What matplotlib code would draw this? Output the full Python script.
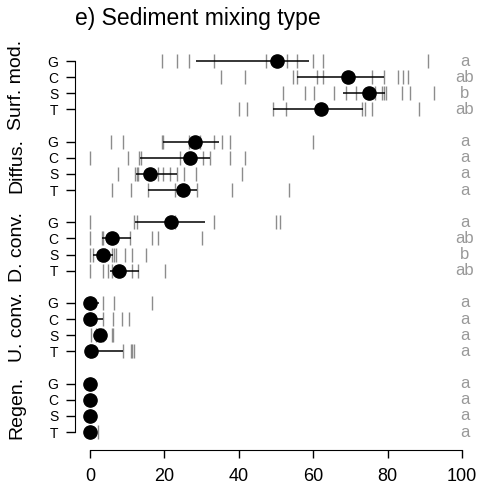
import numpy as np
import matplotlib
matplotlib.use('Agg')
import matplotlib.pyplot as plt
from matplotlib.transforms import blended_transform_factory

plt.rcParams['font.family'] = ['Liberation Sans', 'DejaVu Sans']

# Data
groups = ['Surf. mod.', 'Diffus.', 'D. conv.', 'U. conv.', 'Regen.']
rows = ['G', 'C', 'S', 'T']

# raw observations (grey ticks), one list per row, groups in order
surf_pts = [[19.4, 23.5, 26.6, 33.3, 47.2, 53.0, 55.7, 60.0, 62.7, 90.9],
            [35.2, 41.7, 54.7, 55.7, 60.9, 62.5, 75.7, 78.9, 82.9, 84.2, 85.6],
            [51.8, 57.8, 60.2, 65.7, 68.8, 71.5, 76.6, 78.4, 79.0, 79.7, 83.8, 86.0, 92.5],
            [40.1, 42.3, 49.3, 52.7, 73.0, 73.9, 75.7, 88.5]]
diff_pts = [[5.6, 9.0, 19.3, 19.7, 26.7, 29.6, 33.4, 35.6, 37.6, 59.9],
            [0.0, 10.3, 13.3, 13.7, 24.2, 30.5, 32.3, 37.6, 41.7],
            [7.6, 12.1, 12.5, 13.0, 18.4, 19.7, 21.5, 23.5, 25.4, 28.4, 40.8],
            [5.8, 11.0, 15.5, 22.8, 28.7, 38.1, 53.4]]
dconv_pts = [[0.0, 11.8, 12.7, 22.8, 33.3, 50.0, 51.1],
             [0.0, 3.1, 3.6, 10.8, 16.6, 18.2, 30.0],
             [0.0, 0.9, 4.0, 5.8, 6.5, 7.0, 9.4, 11.2, 15.1],
             [0.0, 3.6, 4.9, 5.8, 11.2, 13.0, 20.2]]
uconv_pts = [[0.0, 3.4, 6.5, 16.8],
             [0.0, 3.6, 6.3, 8.5, 10.6],
             [0.2, 1.5, 3.5, 5.8, 6.3],
             [0.0, 8.8, 10.9, 11.4, 11.8]]
regen_pts = [[0.0], [0.0], [0.0], [0.0, 2.2]]

# means and error bar limits
surf_mean = [50.2, 69.3, 75.1, 62.0]
surf_lo = [28.4, 55.7, 68.1, 49.3]
surf_hi = [59.0, 78.9, 79.3, 73.4]
diff_mean = [28.2, 26.9, 16.1, 25.1]
diff_lo = [19.5, 13.5, 12.3, 15.5]
diff_hi = [34.8, 32.3, 23.5, 28.7]
dconv_mean = [21.8, 5.8, 3.6, 7.9]
dconv_lo = [12.2, 3.1, 0.9, 5.4]
dconv_hi = [30.9, 11.0, 6.3, 13.2]
uconv_mean = [0.0, 0.0, 2.7, 0.4]
uconv_lo = [0.0, 0.0, 1.5, 0.0]
uconv_hi = [2.5, 3.6, 3.9, 8.8]
regen_mean = [0.0, 0.0, 0.0, 0.0]
regen_lo = [0.0, 0.0, 0.0, 0.0]
regen_hi = [0.0, 0.0, 0.0, 0.0]

# significance letters
surf_let = ['a', 'ab', 'b', 'ab']
diff_let = ['a', 'a', 'a', 'a']
dconv_let = ['a', 'ab', 'b', 'ab']
uconv_let = ['a', 'a', 'a', 'a']
regen_let = ['a', 'a', 'a', 'a']

all_pts = [surf_pts, diff_pts, dconv_pts, uconv_pts, regen_pts]
all_mean = [surf_mean, diff_mean, dconv_mean, uconv_mean, regen_mean]
all_lo = [surf_lo, diff_lo, dconv_lo, uconv_lo, regen_lo]
all_hi = [surf_hi, diff_hi, dconv_hi, uconv_hi, regen_hi]
all_let = [surf_let, diff_let, dconv_let, uconv_let, regen_let]

# Generate plot
W, H = 480, 490
fig = plt.figure(figsize=(W / 100, H / 100), dpi=100)
top_px, bot_px = 61, 432
unit = (bot_px - top_px) / 23
ax = fig.add_axes([90 / W, 1 - (bot_px + unit) / H, 372 / W, (bot_px - top_px + 2 * unit) / H])

ypos = []
for g in range(len(groups)):
    for r in range(len(rows)):
        y = g * 5 + r
        ypos.append(y)
        ax.plot(all_pts[g][r], [y] * len(all_pts[g][r]), ls='none', marker='|',
                ms=9.5, mew=1.0, color='0.55', clip_on=False, zorder=1)
        ax.plot([all_lo[g][r], all_hi[g][r]], [y, y], color='black', lw=1.1,
                solid_capstyle='butt', zorder=2)
        ax.plot(all_mean[g][r], y, 'o', ms=9.5, color='black', clip_on=False, zorder=3)
        ax.text(100.8, y, all_let[g][r], ha='center', va='center', fontsize=12,
                color='0.6', clip_on=False)

ax.set_xlim(0, 100)
ax.set_ylim(24, -1)
ax.set_xticks([0, 20, 40, 60, 80, 100])
ax.set_yticks(ypos)
ax.set_yticklabels(rows * len(groups))

for s in ['top', 'right']:
    ax.spines[s].set_visible(False)
ax.spines['left'].set_position(('outward', 10.8))
ax.spines['left'].set_bounds(0, 23)
ax.spines['bottom'].set_position(('outward', 1.4))
ax.spines['bottom'].set_bounds(0, 100)
ax.tick_params(axis='y', length=6.5, width=1, labelsize=10, pad=5.5)
ax.tick_params(axis='x', length=5.8, width=1, labelsize=13, pad=7)

# rotated group labels on the far left
trans = blended_transform_factory(fig.transFigure, ax.transData)
for g, name in enumerate(groups):
    ax.text(17 / W, g * 5 + 1.5, name, transform=trans, rotation=90,
            ha='center', va='center', fontsize=14, clip_on=False)

fig.text(75 / W, 1 - 18 / H, 'e) Sediment mixing type', ha='left', va='center', fontsize=16.5)

plt.savefig('out.png', dpi=100)
plt.close()
